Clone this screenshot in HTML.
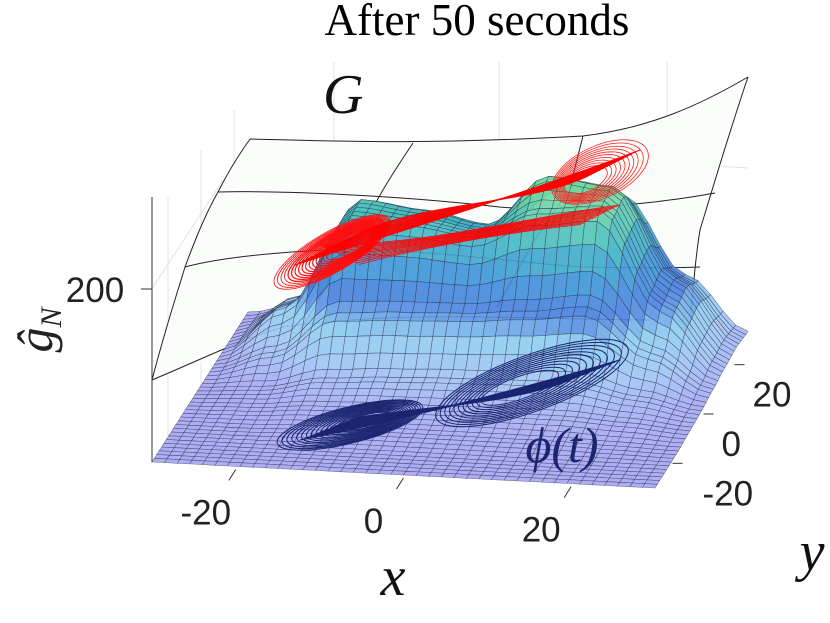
<!DOCTYPE html>
<html><head><meta charset="utf-8"><style>
html,body{margin:0;padding:0;background:#fff;}
#wrap{position:relative;width:830px;height:623px;overflow:hidden;background:#fff;}
svg{position:absolute;left:0;top:0;}
.ser{font-family:"Liberation Serif","DejaVu Serif",serif;}
.san{font-family:"Liberation Sans","DejaVu Sans",sans-serif;}
</style></head><body>
<div id="wrap">
<svg id="plot" width="830" height="623" viewBox="0 0 830 623">
  <g id="backgrid" stroke="#e2e2e2" stroke-width="1" fill="none">
    <line x1="168" y1="197" x2="168" y2="460"/>
    <line x1="201" y1="150" x2="201" y2="462"/>
    <line x1="234" y1="110" x2="234" y2="462"/>
    <line x1="334" y1="62" x2="334" y2="300"/>
    <line x1="499" y1="62" x2="499" y2="230"/>
    <line x1="667" y1="62" x2="667" y2="200"/>
    <line x1="250" y1="140" x2="748" y2="168"/>
    <line x1="153" y1="287" x2="223" y2="180"/>
  </g>
  <g fill="none" stroke="#222" stroke-width="1">
    <path fill="#fbfdfb" stroke="none" d="M250,139 C330,141 420,145 583,136 C650,128 700,105 748,77 C735,130 715,190 700,230 C695,260 692,300 690,330 L300,330 L152,380 C165,330 175,300 185,267 C195,240 205,215 218,192 Z"/>
    <path d="M250,139 C330,141 420,145 583,136 C650,128 700,105 748,77"/>
    <path d="M218,192 C300,190 420,198 499,207 C560,212 650,205 715,193"/>
    <path d="M185,267 C230,255 320,248 377,250 C470,254 540,265 583,267 C630,268 670,268 700,267"/>
    <path d="M152,380 C200,360 240,340 283,327 C360,317 420,316 483,317 C560,318 610,320 650,320"/>
    <path d="M250,139 C235,160 225,178 218,192 C205,215 195,240 185,267 C175,300 165,330 152,380"/>
    <path d="M413,143 C395,170 382,190 372,210 C358,232 345,250 340,260 C325,290 310,315 300,330"/>
    <path d="M583,136 C578,155 574,172 570,187 C560,205 550,218 543,227 C525,255 510,285 497,307"/>
    <path d="M748,77 C730,130 712,190 700,230 C695,260 692,300 690,330"/>
  </g>
  <g id="axes" stroke="#333" stroke-width="1" fill="none">
    <line x1="152" y1="197" x2="152" y2="462"/>
    <line x1="141" y1="289" x2="152" y2="289"/>
  </g>
  <g id="surf"></g>
  <g id="attr"></g>
  <g id="ticks" stroke="#333" stroke-width="1"></g>
  <text class="ser" x="477" y="35" font-size="45" text-anchor="middle" fill="#000">After 50 seconds</text>
  <text class="ser" x="323" y="113" font-size="56" font-style="italic" fill="#111">G</text>
  <text class="san" x="95" y="302" font-size="35" text-anchor="middle" fill="#222">200</text>
  <text class="ser" transform="translate(52,330) rotate(-90)" font-size="50" font-style="italic" text-anchor="middle" fill="#222">ĝ<tspan font-size="30" dy="9">N</tspan></text>
  <text class="ser" x="393" y="595" font-size="56" font-style="italic" text-anchor="middle" fill="#111">x</text>
  <text class="ser" x="812" y="570" font-size="56" font-style="italic" text-anchor="middle" fill="#111">y</text>
  <text class="ser" x="562" y="462" font-size="50" font-style="italic" text-anchor="middle" fill="#1c2570">ϕ(t)</text>
  <g id="ticklabels" class="san" font-size="35" fill="#222"></g>
</svg>
</div>
<script>
// ---- data ----
const xTicks = [-20, 0, 20];
const yTicks = [-20, 0, 20];
const xRange = [-30, 30];
const yRange = [-30, 30];
// surface heights (ĝ_N), rows = y from -30 (front) to 30 (back), cols = x from -30 to 30
const heightRow0 = [0,0,0,0,0,0,0,0,0];
const heightRow1 = [0,0,0,0,0,0,0,0,0];
const heightRow2 = [0,0,2,4,4,4,4,2,0];
const heightRow3 = [0,2,8,10,10,12,12,8,2];
const heightRow4 = [0,5,20,25,28,30,32,18,4];
const heightRow5 = [0,25,80,85,88,95,105,50,8];
const heightRow6 = [0,60,180,175,165,200,210,90,12];
const heightRow7 = [0,50,185,175,160,230,220,100,15];
const heightRow8 = [0,20,140,140,130,190,190,85,12];
const heights = [heightRow0,heightRow1,heightRow2,heightRow3,heightRow4,heightRow5,heightRow6,heightRow7,heightRow8];
// attractor loop scales (each loop is one traced orbit)
const redLeftLoops = [1.0,0.96,0.92,0.88,0.84,0.8,0.76,0.72,0.68,0.64,0.6,0.56,0.52,0.48,0.44,0.4];
const redRightLoops = [1.0,0.93,0.86,0.8,0.74,0.68,0.62,0.56,0.5,0.44];
const blueLeftLoops = [1.0,0.95,0.9,0.85,0.8,0.75,0.7,0.65,0.6,0.55,0.5,0.45,0.4,0.35];
const blueRightLoops = [1.0,0.94,0.88,0.82,0.76,0.7,0.64,0.58,0.52,0.46,0.4];

// ---- projection ----
const FL=[152,462], FR=[655,488], BR=[748,340], BL=[248,312];
function xToU(x){return (x-xRange[0])/(xRange[1]-xRange[0]);}
function yToV(y){return (y-yRange[0])/(yRange[1]-yRange[0]);}
function proj(u,v,z){
  const fx=FL[0]+u*(FR[0]-FL[0]), fy=FL[1]+u*(FR[1]-FL[1]);
  const bx=BL[0]+u*(BR[0]-BL[0]), by=BL[1]+u*(BR[1]-BL[1]);
  const k=0.86*(1-0.15*v);
  return [fx+v*(bx-fx), fy+v*(by-fy)-z*k];
}
function hAt(u,v){
  const n=heights[0].length-1, m=heights.length-1;
  const fu=u*n, fv=v*m;
  const i=Math.min(Math.floor(fu),n-1), j=Math.min(Math.floor(fv),m-1);
  let a=fu-i, b=fv-j;
  a=a*a*(3-2*a); b=b*b*(3-2*b);
  const h00=heights[j][i],h10=heights[j][i+1],h01=heights[j+1][i],h11=heights[j+1][i+1];
  return (h00*(1-a)+h10*a)*(1-b)+(h01*(1-a)+h11*a)*b;
}
const stops=[[0,[165,165,245]],[30,[160,195,245]],[65,[140,205,240]],[95,[70,125,222]],[130,[60,150,215]],[170,[65,185,195]],[215,[115,218,160]]];
function col(z){
  for(let i=1;i<stops.length;i++){
    if(z<=stops[i][0]){
      const t=(z-stops[i-1][0])/(stops[i][0]-stops[i-1][0]);
      const c=stops[i-1][1].map((c0,k)=>Math.round(c0+(stops[i][1][k]-c0)*t));
      return 'rgb('+c.join(',')+')';
    }
  }
  return 'rgb('+stops[stops.length-1][1].join(',')+')';
}
const NS='http://www.w3.org/2000/svg';
const surf=document.getElementById('surf');
const N=40;
for(let j=N-1;j>=0;j--){
  for(let i=0;i<N;i++){
    const u0=i/N,u1=(i+1)/N,v0=j/N,v1=(j+1)/N;
    const z00=hAt(u0,v0),z10=hAt(u1,v0),z11=hAt(u1,v1),z01=hAt(u0,v1);
    const p=[proj(u0,v0,z00),proj(u1,v0,z10),proj(u1,v1,z11),proj(u0,v1,z01)];
    const poly=document.createElementNS(NS,'polygon');
    poly.setAttribute('points',p.map(q=>q[0].toFixed(1)+','+q[1].toFixed(1)).join(' '));
    poly.setAttribute('fill',col((z00+z10+z11+z01)/4));
    poly.setAttribute('fill-opacity','0.9');
    poly.setAttribute('stroke','rgba(40,40,65,0.6)');
    poly.setAttribute('stroke-width','0.55');
    
    
    surf.appendChild(poly);
  }
}
// ---- attractors ----
const attr=document.getElementById('attr');
function loop(cx,cy,rx,ry,rot,s,color,w,name){
  const e=document.createElementNS(NS,'ellipse');
  e.setAttribute('cx',cx);e.setAttribute('cy',cy);
  e.setAttribute('rx',(rx*s).toFixed(1));e.setAttribute('ry',(ry*s).toFixed(1));
  e.setAttribute('transform','rotate('+rot+' '+cx+' '+cy+')');
  e.setAttribute('fill','none');e.setAttribute('stroke',color);e.setAttribute('stroke-width',w);
  
  
  attr.appendChild(e);
}
function band(x1,y1,x2,y2,c1x,c1y,c2x,c2y,color,w,name){
  const p=document.createElementNS(NS,'path');
  p.setAttribute('d','M'+x1+','+y1+' C'+c1x+','+c1y+' '+c2x+','+c2y+' '+x2+','+y2);
  p.setAttribute('fill','none');p.setAttribute('stroke',color);p.setAttribute('stroke-width',w);
  
  
  attr.appendChild(p);
}
// red (G trajectory)
redLeftLoops.forEach((s,k)=>loop(332+(1-s)*30,252-(1-s)*12,66,20,-30,s,'#ff1010',k<4?0.8:1.2,'red-left-loop'));
redRightLoops.forEach((s,k)=>loop(600-(1-s)*25,172+(1-s)*14,52,26,-25,s,'#ff2020',0.8,'red-right-loop'));
for(let k=0;k<14;k++){
  band(295+k*4,265-k*2,640-k*4,150+k*2,420,225-k*2,520,195+k,'#ff0000',1,'red-band');
  band(320+k*3,245+k*1.5,620-k*3,205+k*1.5,430,245,520,218+k,'#ff0000',0.8,'red-band');
}
// navy (phi trajectory)
blueLeftLoops.forEach((s,k)=>loop(350+(1-s)*25,425-(1-s)*6,75,18,-14,s,'#1a2570',1,'phi-left-loop'));
blueRightLoops.forEach((s,k)=>loop(532-(1-s)*20,383+(1-s)*8,102,28,-20,s,'#1a2570',1,'phi-right-loop'));
for(let k=0;k<12;k++){
  band(300+k*5,440-k*2,620-k*5,360+k*2,400,420-k,500,395+k,'#1a2570',1.4,'phi-band');
}
// ---- ticks ----
const ticks=document.getElementById('ticks'), tl=document.getElementById('ticklabels');
xTicks.forEach(x=>{
  const u=xToU(x); const a=proj(u,0,0);
  const l=document.createElementNS(NS,'line');
  l.setAttribute('x1',a[0]);l.setAttribute('y1',a[1]+3);l.setAttribute('x2',a[0]-7);l.setAttribute('y2',a[1]+14);
  
  
  ticks.appendChild(l);
  const t=document.createElementNS(NS,'text');
  t.setAttribute('x',a[0]-30);t.setAttribute('y',a[1]+58);t.setAttribute('text-anchor','middle');
  t.textContent=String(x);
  
  
  tl.appendChild(t);
});
yTicks.forEach(y=>{
  const v=yToV(y); const a=proj(1,v,0);
  const l=document.createElementNS(NS,'line');
  l.setAttribute('x1',a[0]+2);l.setAttribute('y1',a[1]);l.setAttribute('x2',a[0]+12);l.setAttribute('y2',a[1]);
  
  
  ticks.appendChild(l);
  const t=document.createElementNS(NS,'text');
  t.setAttribute('x',a[0]+(y<0?32:20));t.setAttribute('y',a[1]+42);t.setAttribute('text-anchor','start');
  t.textContent=String(y);
  
  
  tl.appendChild(t);
});
</script>
</body></html>
